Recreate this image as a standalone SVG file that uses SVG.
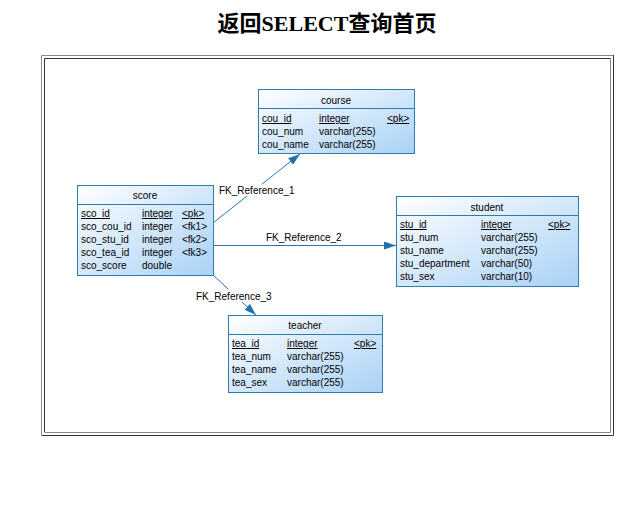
<svg xmlns="http://www.w3.org/2000/svg" width="634" height="507" viewBox="0 0 634 507">
<style>
.t{font-family:"Liberation Sans",Arial,sans-serif;font-size:10px;fill:#000}
.h{font-family:"Liberation Sans",Arial,sans-serif;font-size:10px;fill:#000;text-anchor:middle}
.u{text-decoration:underline}
.box{fill:url(#g);stroke:#2d7cac;stroke-width:1}
.div{stroke:#2d7cac;stroke-width:1}
.c{stroke:#2a76b0;stroke-width:1;fill:none}
.lbl{font-family:"Liberation Sans",Arial,sans-serif;font-size:10px;fill:#000}
</style>
<defs>
<linearGradient id="g" x1="0" y1="0" x2="1" y2="1">
<stop offset="0" stop-color="#ffffff"/>
<stop offset="1" stop-color="#a9d1f6"/>
</linearGradient>
<marker id="a" viewBox="0 0 12 8" refX="12" refY="4" markerWidth="12" markerHeight="8" markerUnits="userSpaceOnUse" orient="auto">
<path d="M0,0 L12,4 L0,8 Z" fill="#1f72b0"/>
</marker>
</defs>
<rect width="634" height="507" fill="#fff"/>
<text x="327" y="31" text-anchor="middle" style="font-family:'Liberation Serif','Noto Sans CJK SC',serif;font-size:22px;font-weight:bold">返回SELECT查询首页</text>
<g id="frame" fill="none">
<path d="M41.5,435 V55.5 H613" stroke="#888"/>
<path d="M41.5,435.5 H613.5 V55" stroke="#333"/>
<path d="M44.5,432 V58.5 H610" stroke="#333"/>
<path d="M44.5,432.5 H610.5 V58" stroke="#888"/>
</g>
<g id="connectors">
<line class="c" x1="213" y1="223" x2="300" y2="154" marker-end="url(#a)"/>
<line class="c" x1="213" y1="245.5" x2="396" y2="245.5" marker-end="url(#a)"/>
<line class="c" x1="213" y1="275" x2="256" y2="315" marker-end="url(#a)"/>
<rect x="218" y="184" width="80" height="12" fill="#fff"/>
<text class="lbl" x="219" y="194">FK_Reference_1</text>
<text class="lbl" x="266" y="241">FK_Reference_2</text>
<rect x="195" y="289" width="81" height="13" fill="#fff"/>
<text class="lbl" x="196" y="300">FK_Reference_3</text>
</g>
<g id="course">
<rect class="box" x="258.5" y="89.5" width="156" height="64"/>
<line class="div" x1="258.5" y1="108.5" x2="414.5" y2="108.5"/>
<text class="h" x="336" y="104">course</text>
<text class="t u" x="262" y="122">cou_id</text><text class="t u" x="319" y="122">integer</text><text class="t u" x="387" y="122">&lt;pk&gt;</text>
<text class="t" x="262" y="135">cou_num</text><text class="t" x="319" y="135">varchar(255)</text>
<text class="t" x="262" y="148">cou_name</text><text class="t" x="319" y="148">varchar(255)</text>
</g>
<g id="score">
<rect class="box" x="77.5" y="185.5" width="136" height="90"/>
<line class="div" x1="77.5" y1="204.5" x2="213.5" y2="204.5"/>
<text class="h" x="145" y="199">score</text>
<text class="t u" x="81" y="217">sco_id</text><text class="t u" x="142" y="217">integer</text><text class="t u" x="182" y="217">&lt;pk&gt;</text>
<text class="t" x="81" y="230">sco_cou_id</text><text class="t" x="142" y="230">integer</text><text class="t" x="182" y="230">&lt;fk1&gt;</text>
<text class="t" x="81" y="243">sco_stu_id</text><text class="t" x="142" y="243">integer</text><text class="t" x="182" y="243">&lt;fk2&gt;</text>
<text class="t" x="81" y="256">sco_tea_id</text><text class="t" x="142" y="256">integer</text><text class="t" x="182" y="256">&lt;fk3&gt;</text>
<text class="t" x="81" y="269">sco_score</text><text class="t" x="142" y="269">double</text>
</g>
<g id="student">
<rect class="box" x="396.5" y="196.5" width="182" height="90"/>
<line class="div" x1="396.5" y1="215.5" x2="578.5" y2="215.5"/>
<text class="h" x="487" y="211">student</text>
<text class="t u" x="400" y="228">stu_id</text><text class="t u" x="481" y="228">integer</text><text class="t u" x="548" y="228">&lt;pk&gt;</text>
<text class="t" x="400" y="241">stu_num</text><text class="t" x="481" y="241">varchar(255)</text>
<text class="t" x="400" y="254">stu_name</text><text class="t" x="481" y="254">varchar(255)</text>
<text class="t" x="400" y="267">stu_department</text><text class="t" x="481" y="267">varchar(50)</text>
<text class="t" x="400" y="280">stu_sex</text><text class="t" x="481" y="280">varchar(10)</text>
</g>
<g id="teacher">
<rect class="box" x="228.5" y="315.5" width="154" height="77"/>
<line class="div" x1="228.5" y1="334.5" x2="382.5" y2="334.5"/>
<text class="h" x="305" y="329">teacher</text>
<text class="t u" x="232" y="347">tea_id</text><text class="t u" x="287" y="347">integer</text><text class="t u" x="354" y="347">&lt;pk&gt;</text>
<text class="t" x="232" y="360">tea_num</text><text class="t" x="287" y="360">varchar(255)</text>
<text class="t" x="232" y="373">tea_name</text><text class="t" x="287" y="373">varchar(255)</text>
<text class="t" x="232" y="386">tea_sex</text><text class="t" x="287" y="386">varchar(255)</text>
</g>
</svg>
